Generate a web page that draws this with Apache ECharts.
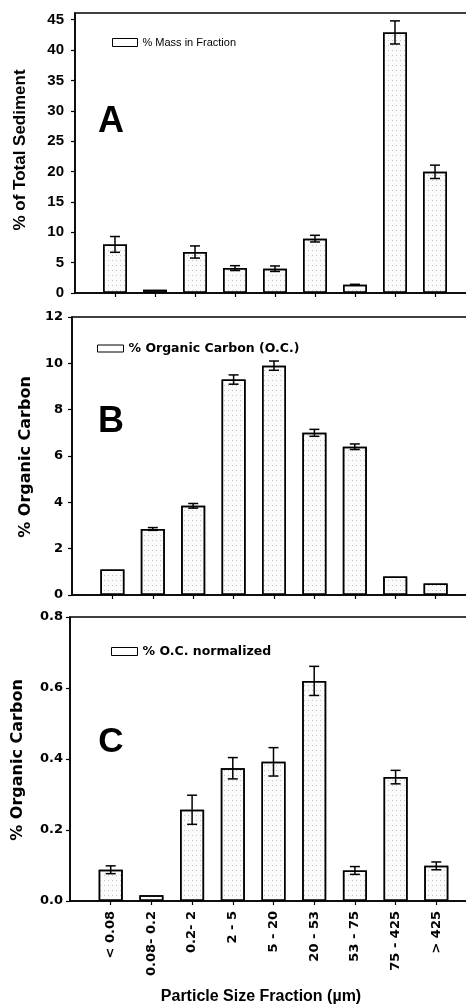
<!DOCTYPE html>
<html>
<head>
<meta charset="utf-8">
<script src="https://cdn.jsdelivr.net/npm/echarts@6/dist/echarts.min.js"></script>
<style>html,body{margin:0;padding:0;background:#fff}#c{width:466px;height:1005px}</style>
</head>
<body>
<div id="c"></div>
<script>
var categories = ['< 0.08', '0.08- 0.2', '0.2- 2', '2 - 5', '5 - 20', '20 - 53', '53 - 75', '75 - 425', '> 425'];
var massPct = [8.0, 0.55, 6.75, 4.1, 4.0, 8.95, 1.35, 42.9, 19.95];
var massErr = [1.3, 0, 1.0, 0.4, 0.45, 0.55, 0.08, 1.9, 1.1];
var ocPct = [1.1, 2.85, 3.85, 9.3, 9.9, 7.0, 6.4, 0.8, 0.5];
var ocErr = [0, 0.06, 0.1, 0.2, 0.2, 0.15, 0.12, 0, 0];
var ocNorm = [0.088, 0.016, 0.257, 0.374, 0.392, 0.62, 0.086, 0.349, 0.099];
var ocNormErr = [0.011, 0, 0.041, 0.03, 0.04, 0.041, 0.011, 0.019, 0.011];
var ticksA = [0, 5, 10, 15, 20, 25, 30, 35, 40, 45];

var padded = [''].concat(categories).concat(['']);
function barData(vals) { return vals.map(function (v, i) { return [i + 1, v]; }); }
function errData(vals, errs) { return vals.map(function (v, i) { return [i + 1, v, errs[i]]; }); }

var DV = '"DejaVu Sans"';
var LS = '"Liberation Sans", Arial';
var decal = { symbol: 'rect', symbolSize: 1, dashArrayX: [1, 3], dashArrayY: [1, 4], color: 'rgba(0,0,0,0.22)' };

function errSeries(idx, vals, errs) {
  return {
    type: 'custom', xAxisIndex: idx, yAxisIndex: idx, z: 5,
    data: errData(vals, errs),
    renderItem: function (params, api) {
      var x = api.value(0), v = api.value(1), e = api.value(2);
      if (!e) return null;
      var hi = api.coord([x, v + e]), lo = api.coord([x, v - e]);
      var w = 5;
      var st = { stroke: '#000', lineWidth: 1.5 };
      return { type: 'group', children: [
        { type: 'line', shape: { x1: hi[0], y1: hi[1], x2: lo[0], y2: lo[1] }, style: st },
        { type: 'line', shape: { x1: hi[0] - w, y1: hi[1], x2: hi[0] + w, y2: hi[1] }, style: st },
        { type: 'line', shape: { x1: lo[0] - w, y1: lo[1], x2: lo[0] + w, y2: lo[1] }, style: st }
      ] };
    }
  };
}
function barSeries(idx, name, vals) {
  return {
    type: 'bar', name: name, xAxisIndex: idx, yAxisIndex: idx, barWidth: 24,
    data: barData(vals),
    itemStyle: { color: '#fbfbfb', borderColor: '#000', borderWidth: 1.5, decal: decal },
    emphasis: { disabled: true }
  };
}
function xAx(idx, showLabels) {
  return {
    type: 'category', gridIndex: idx, data: padded, boundaryGap: false,
    axisLine: { lineStyle: { color: '#000', width: 1.5 } },
    axisTick: { length: 4, interval: function (i) { return i > 0 && i < padded.length - 1; }, lineStyle: { color: '#000', width: 1.2 } },
    axisLabel: showLabels ? { show: true, interval: 0, rotate: 90, margin: 10, color: '#000', fontFamily: DV, fontWeight: 'bold', fontSize: 13 } : { show: false },
    splitLine: { show: false }
  };
}

var grids = [
  { left: 75, top: 13, width: 400, height: 280 },
  { left: 72, top: 317, width: 404, height: 278 },
  { left: 70, top: 617, width: 407, height: 284 }
].map(function (g) { g.show = true; g.borderColor = '#000'; g.borderWidth = 1.5; g.backgroundColor = 'transparent'; g.outerBoundsMode = 'none'; g.containLabel = false; return g; });

var option = {
  animation: false,
  backgroundColor: '#fff',
  grid: grids,
  xAxis: [xAx(0, false), xAx(1, false), xAx(2, true)],
  yAxis: [
    { type: 'value', gridIndex: 0, min: 0, max: 46.1, interval: 5,
      axisLine: { show: true, lineStyle: { color: '#000', width: 1.5 } },
      axisTick: { show: true, length: 4, customValues: ticksA, lineStyle: { color: '#000', width: 1.2 } },
      axisLabel: { margin: 11, customValues: ticksA, color: '#000', fontFamily: LS, fontWeight: 'bold', fontSize: 15 },
      splitLine: { show: false } },
    { type: 'value', gridIndex: 1, min: 0, max: 12, interval: 2,
      axisLine: { show: true, lineStyle: { color: '#000', width: 1.5 } },
      axisTick: { show: true, length: 4, lineStyle: { color: '#000', width: 1.2 } },
      axisLabel: { margin: 9, color: '#000', fontFamily: DV, fontWeight: 'bold', fontSize: 13 },
      splitLine: { show: false } },
    { type: 'value', gridIndex: 2, min: 0, max: 0.8, interval: 0.2,
      axisLine: { show: true, lineStyle: { color: '#000', width: 1.5 } },
      axisTick: { show: true, length: 4, lineStyle: { color: '#000', width: 1.2 } },
      axisLabel: { margin: 7, color: '#000', fontFamily: DV, fontWeight: 'bold', fontSize: 13, formatter: function (v) { return v.toFixed(1); } },
      splitLine: { show: false } }
  ],
  legend: [
    { data: ['% Mass in Fraction'], left: 112, top: 37, padding: 0, itemWidth: 25, itemHeight: 8, icon: 'rect',
      itemStyle: { color: '#fff', borderColor: '#000', borderWidth: 1, decal: 'none' },
      textStyle: { color: '#000', fontFamily: LS, fontSize: 11 } },
    { data: ['% Organic Carbon (O.C.)'], left: 97, top: 342, padding: 0, itemWidth: 26, itemHeight: 7, icon: 'rect',
      itemStyle: { color: '#fff', borderColor: '#000', borderWidth: 1, decal: 'none' },
      textStyle: { color: '#000', fontFamily: DV, fontWeight: 'bold', fontSize: 12.5 } },
    { data: ['% O.C. normalized'], left: 111, top: 645, padding: 0, itemWidth: 26, itemHeight: 8, icon: 'rect',
      itemStyle: { color: '#fff', borderColor: '#000', borderWidth: 1, decal: 'none' },
      textStyle: { color: '#000', fontFamily: DV, fontWeight: 'bold', fontSize: 12.5 } }
  ],
  graphic: [
    { type: 'text', x: 20, y: 150, rotation: Math.PI / 2, style: { text: '% of Total Sediment', fill: '#000', font: 'bold 17px ' + LS, textAlign: 'center', textVerticalAlign: 'middle' } },
    { type: 'text', x: 26, y: 457, rotation: Math.PI / 2, style: { text: '% Organic Carbon', fill: '#000', font: 'bold 16px ' + DV, textAlign: 'center', textVerticalAlign: 'middle' } },
    { type: 'text', x: 18, y: 760, rotation: Math.PI / 2, style: { text: '% Organic Carbon', fill: '#000', font: 'bold 16px ' + DV, textAlign: 'center', textVerticalAlign: 'middle' } },
    { type: 'text', x: 111, y: 122, style: { text: 'A', fill: '#000', font: 'bold 36px ' + LS, textAlign: 'center', textVerticalAlign: 'middle' } },
    { type: 'text', x: 111, y: 422, style: { text: 'B', fill: '#000', font: 'bold 36px ' + LS, textAlign: 'center', textVerticalAlign: 'middle' } },
    { type: 'text', x: 111, y: 742, style: { text: 'C', fill: '#000', font: 'bold 35px ' + LS, textAlign: 'center', textVerticalAlign: 'middle' } },
    { type: 'text', x: 261, y: 997, style: { text: 'Particle Size Fraction (µm)', fill: '#000', font: 'bold 16px ' + LS, textAlign: 'center', textVerticalAlign: 'middle' } }
  ],
  series: [
    barSeries(0, '% Mass in Fraction', massPct), errSeries(0, massPct, massErr),
    barSeries(1, '% Organic Carbon (O.C.)', ocPct), errSeries(1, ocPct, ocErr),
    barSeries(2, '% O.C. normalized', ocNorm), errSeries(2, ocNorm, ocNormErr)
  ]
};
var chart = echarts.init(document.getElementById('c'), null, { renderer: 'canvas' });
chart.setOption(option);
</script>
</body>
</html>
